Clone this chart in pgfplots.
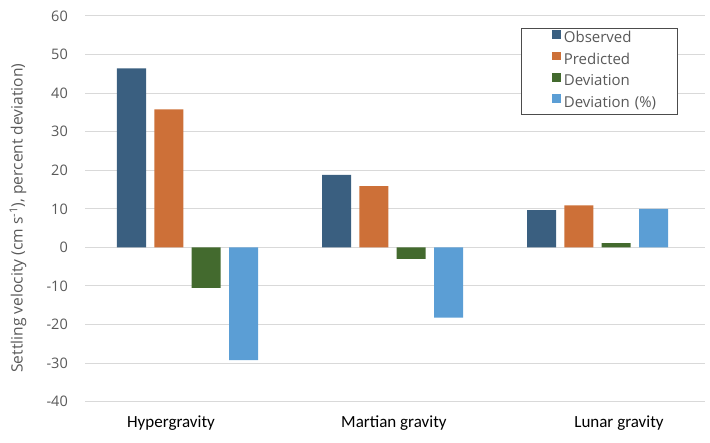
\documentclass[border=0pt]{standalone}
\usepackage{pgfplots}
\pgfplotsset{compat=1.18}
\usepackage{fontspec}
\setmainfont{Open Sans}
\newfontfamily\catfont{Carlito}
\definecolor{cObs}{RGB}{58,95,128}
\definecolor{cPred}{RGB}{205,112,56}
\definecolor{cDev}{RGB}{67,106,46}
\definecolor{cDevP}{RGB}{91,158,213}
\definecolor{cGrid}{RGB}{217,217,217}
\definecolor{cText}{RGB}{89,89,89}
\begin{document}
\begin{tikzpicture}
\useasboundingbox (0,0) rectangle (710bp,443bp);
\begin{axis}[
  at={(85bp,41.3bp)}, anchor=south west,
  scale only axis, width=620bp, height=385.7bp,
  xmin=-0.5, xmax=2.5244, ymin=-40, ymax=60,
  ytick={-40,-30,...,60},
  xtick={-0.0805,1.007,2.105},
  xticklabels={Hypergravity,Martian gravity,Lunar gravity},
  axis line style={draw=none},
  major tick length=0pt,
  ymajorgrids, grid style={cGrid, line width=1bp},
  /pgf/number format/assume math mode=true,
  yticklabel style={font=\fontsize{14.5bp}{16bp}\selectfont, text=cText, anchor=east, inner xsep=0pt, xshift=-17bp},
  xticklabel style={font=\catfont\fontsize{17bp}{19bp}\selectfont, text=black, anchor=base, yshift=-25.5bp},
  ylabel={Settling velocity (cm s\textsuperscript{-1}), percent deviation)},
  ylabel style={font=\fontsize{15.6bp}{18bp}\selectfont, text=cText, at={(axis description cs:-0.1080,0.476)}, anchor=center},
  ybar, bar width=29bp,
  legend style={at={(axis description cs:0.7040,0.9697)}, anchor=north west,
    draw=black!70, line width=0.8bp, inner xsep=0pt, inner ysep=0.5bp,
    font=\fontsize{15bp}{17bp}\selectfont, text=cText,
    nodes={inner ysep=0pt, inner xsep=3bp, text height=14.3bp, text depth=7.1bp, text width=111bp, align=left},
    row sep=0pt, column sep=0pt},
  legend cell align=left,
  legend image code/.code={\path (0bp,0bp) (39bp,0bp); \fill[#1,draw=none] (30.5bp,0.5bp) rectangle (39bp,9bp);},
]
\addplot[fill=cObs, draw=none, bar shift=-56bp] coordinates {(0,46.4) (1,18.8) (2,9.7)};
\addplot[fill=cPred, draw=none, bar shift=-18.65bp] coordinates {(0,35.8) (1,15.9) (2,10.9)};
\addplot[fill=cDev, draw=none, bar shift=18.65bp] coordinates {(0,-10.5) (1,-3.0) (2,1.1)};
\addplot[fill=cDevP, draw=none, bar shift=56bp] coordinates {(0,-29.2) (1,-18.2) (2,10.0)};
\legend{Observed,Predicted,Deviation,Deviation (\%)}
\end{axis}
\end{tikzpicture}
\end{document}
